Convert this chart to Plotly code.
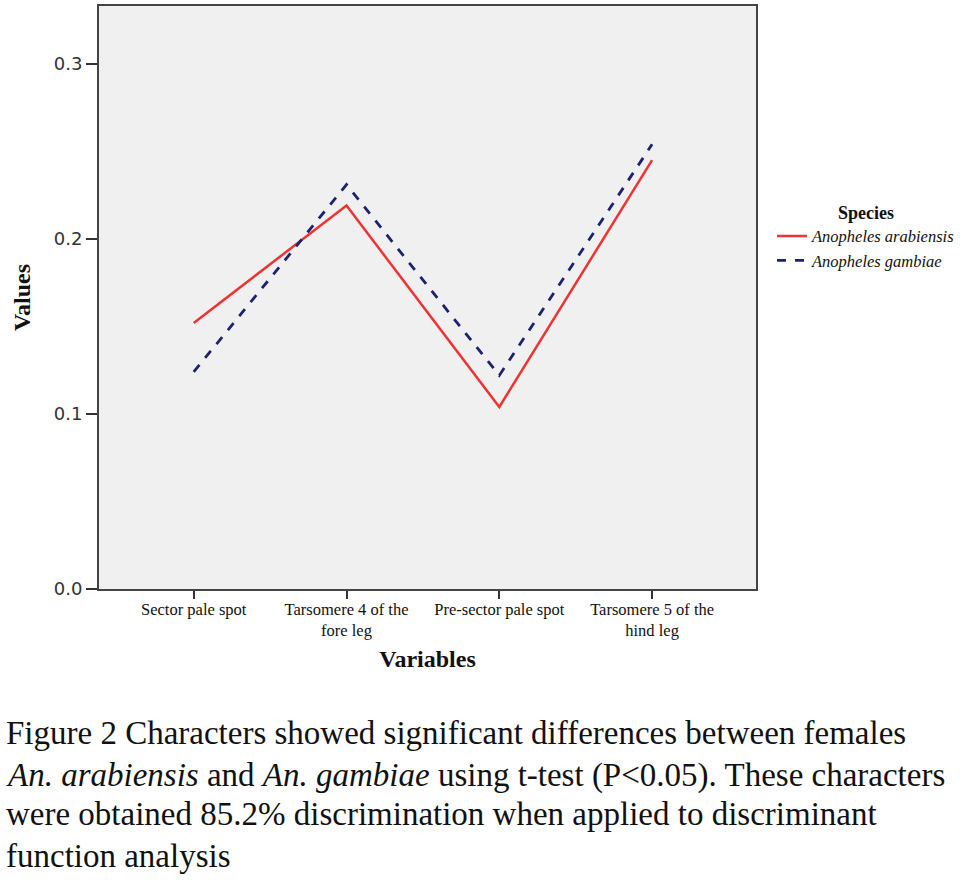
import plotly.graph_objects as go

categories = ["Sector pale spot", "Tarsomere 4 of the<br>fore leg", "Pre-sector pale spot", "Tarsomere 5 of the<br>hind leg"]
arabiensis = [0.152, 0.219, 0.104, 0.245]
gambiae = [0.124, 0.231, 0.122, 0.254]
y_ticks = [0.0, 0.1, 0.2, 0.3]
caption_lines = [
    "Figure 2 Characters showed significant differences between females",
    "<i>An. arabiensis</i> and <i>An. gambiae</i> using t-test (P&lt;0.05). These characters",
    "were obtained 85.2% discrimination when applied to discriminant",
    "function analysis",
]

W, H = 974, 882
L, R, T, B = 99, 756, 4, 589
xpos = list(range(len(categories)))

fig = go.Figure()
fig.add_trace(go.Scatter(x=xpos, y=arabiensis, mode="lines", name="<i>Anopheles arabiensis</i>",
                         line=dict(color="#ee3333", width=2.5)))
fig.add_trace(go.Scatter(x=xpos, y=gambiae, mode="lines", name="<i>Anopheles gambiae</i>",
                         line=dict(color="#1c2270", width=2.8, dash="dash")))

def py(y):
    return (B - y) / (B - T)

for i, line in enumerate(caption_lines):
    yc = [733, 776, 815, 857][i]
    fig.add_annotation(text=line, xref="paper", yref="paper", x=(4 - L) / (R - L), y=py(yc),
                       xanchor="left", yanchor="middle", showarrow=False, align="left",
                       font=dict(family="Liberation Serif", size=33, color="#111"))

fig.update_layout(
    width=W, height=H,
    margin=dict(l=L, r=W - R, t=T, b=H - B, pad=0),
    paper_bgcolor="white", plot_bgcolor="#f0f0f0",
    showlegend=True,
    legend=dict(x=(772 - L) / (R - L), y=py(194), xanchor="left", yanchor="top",
                title=dict(text="<b>Species</b>", side="top center",
                           font=dict(family="Liberation Serif", size=18, color="#111")),
                font=dict(family="Liberation Serif", size=16.5, color="#111"),
                bgcolor="rgba(0,0,0,0)", tracegroupgap=0, itemwidth=30),
    xaxis=dict(range=[-0.62, 3.68], tickmode="array", tickvals=xpos, ticktext=categories,
               showgrid=False, zeroline=False, showline=True, linecolor="#444", linewidth=2, mirror=True,
               ticks="outside", ticklen=8, tickwidth=1.5, tickcolor="#333", ticklabelstandoff=-4,
               tickfont=dict(family="Liberation Serif", size=16.5, color="#111"),
               title=dict(text="<b>Variables</b>", standoff=11,
                          font=dict(family="Liberation Serif", size=24, color="#111"))),
    yaxis=dict(range=[0, 0.333], tickmode="array", tickvals=y_ticks,
               ticktext=["0.0", "0.1", "0.2", "0.3"],
               showgrid=False, zeroline=False, showline=True, linecolor="#444", linewidth=2, mirror=True,
               ticks="outside", ticklen=11, tickwidth=1.5, tickcolor="#333",
               tickfont=dict(family="DejaVu Sans", size=18, color="#333"),
               title=dict(text="<b>Values</b>", standoff=16,
                          font=dict(family="Liberation Serif", size=24, color="#111"))),
)

fig.write_html("out.html", config={"displayModeBar": False},
               post_script="document.body.style.margin='0';")
